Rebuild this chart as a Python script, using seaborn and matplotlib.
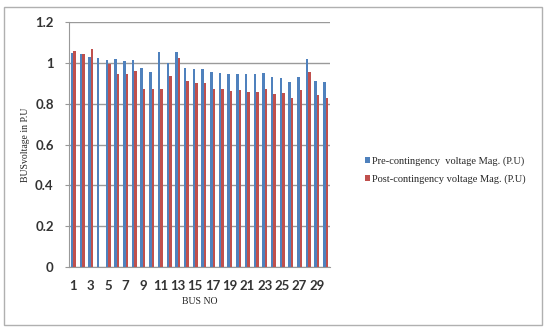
import pandas as pd
import matplotlib
matplotlib.use("Agg")
import matplotlib.pyplot as plt
import seaborn as sns
from matplotlib.patches import Rectangle

# bus voltage magnitudes
bus_no = list(range(1, 31))
pre_voltage = [1.048, 1.043, 1.027, 1.022, 1.014, 1.019, 1.009, 1.014, 0.974, 0.956,
               1.051, 0.999, 1.051, 0.976, 0.971, 0.971, 0.956, 0.951, 0.946, 0.946,
               0.946, 0.946, 0.951, 0.929, 0.924, 0.904, 0.929, 1.019, 0.909, 0.904]
post_voltage = [1.060, 1.043, 1.066, 0.0, 0.994, 0.945, 0.945, 0.961, 0.871, 0.871,
                0.871, 0.934, 1.024, 0.909, 0.899, 0.899, 0.871, 0.871, 0.861, 0.866,
                0.856, 0.856, 0.871, 0.845, 0.851, 0.830, 0.868, 0.953, 0.842, 0.826]
series_names = ["Pre-contingency  voltage Mag. (P.U)",
                "Post-contingency voltage Mag. (P.U)"]
colors = ["#4F81BD", "#C0504D"]

df = pd.DataFrame({
    "bus": bus_no * 2,
    "voltage": pre_voltage + post_voltage,
    "series": [series_names[0]] * 30 + [series_names[1]] * 30,
})

sns.set_style("white")
fig = plt.figure(figsize=(5.46, 3.27), dpi=100)
ax = fig.add_axes([69 / 546, 1 - 267 / 327, 261 / 546, 245 / 327])

sns.barplot(data=df, x="bus", y="voltage", hue="series", palette=colors,
            width=0.58, ax=ax, legend=True, saturation=1, linewidth=0,
            edgecolor="none", zorder=3)

ax.set_ylim(0, 1.2)
ax.set_yticks([0, 0.2, 0.4, 0.6, 0.8, 1.0, 1.2])
ax.set_yticklabels(["0", "0.2", "0.4", "0.6", "0.8", "1", "1.2"],
                   fontfamily="Lato", fontweight="bold", fontsize=9.5, color="#333333")
ax.set_xticks(range(0, 30, 2))
ax.set_xticklabels([str(b) for b in bus_no[::2]],
                   fontfamily="Lato", fontweight="bold", fontsize=9.5, color="#333333")
ax.tick_params(axis="x", length=0, pad=9)
ax.tick_params(axis="y", length=3, color="#999999", pad=8, left=True)
ax.yaxis.grid(True, color="#9a9a9a", linewidth=1, zorder=0)
ax.set_axisbelow(True)
for side in ["top", "right"]:
    ax.spines[side].set_visible(False)
ax.spines["left"].set_color("#999999")
ax.spines["bottom"].set_color("#999999")

ax.set_xlabel("BUS NO", fontfamily="Liberation Serif", fontsize=7, labelpad=4)
ax.set_ylabel("BUSvoltage in P.U", fontfamily="Liberation Serif", fontsize=7, labelpad=4)

handles, labels = ax.get_legend_handles_labels()
ax.legend(handles, labels, loc="center left", bbox_to_anchor=(356 / 546, 0.48),
          bbox_transform=fig.transFigure, frameon=False,
          prop={"family": "Liberation Serif", "size": 7.5},
          handlelength=0.45, handleheight=0.45, handletextpad=0.2, labelspacing=0.8)

# outer chart border
fig.patches.append(Rectangle((4 / 546, 0.005), 538 / 546, 1 - 7 / 327 - 0.005,
                             transform=fig.transFigure, fill=False,
                             edgecolor="#b0b0b0", linewidth=1))

fig.savefig("out.png", dpi=100)
